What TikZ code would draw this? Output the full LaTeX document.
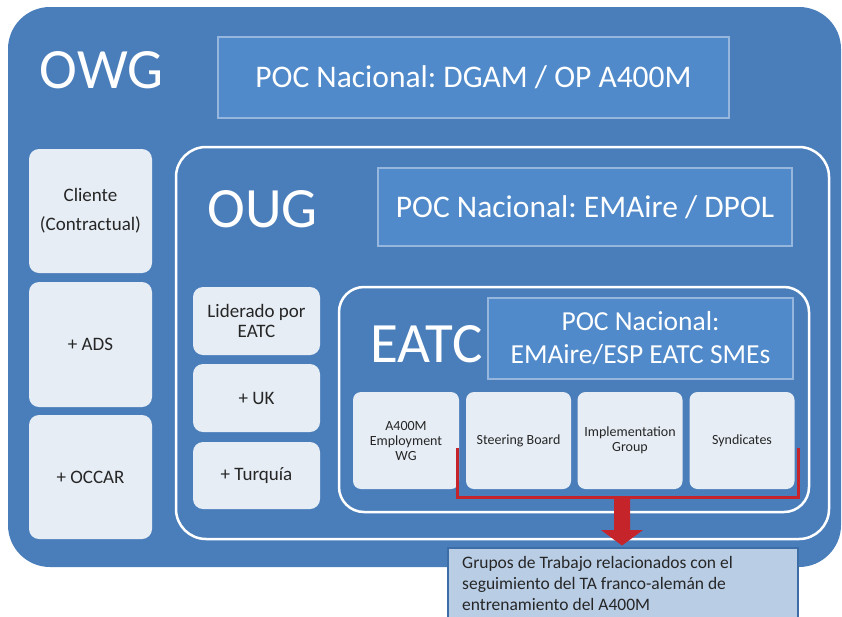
\documentclass[tikz,border=0pt]{standalone}
\usepackage{fontspec}
\setmainfont{Carlito}
\frenchspacing
\definecolor{outerblue}{RGB}{74,126,187}
\definecolor{pocfill}{RGB}{80,138,202}
\definecolor{pocline}{RGB}{150,182,222}
\definecolor{lightbox}{RGB}{230,237,245}
\definecolor{textdark}{RGB}{38,38,38}
\definecolor{redline}{RGB}{196,36,42}
\definecolor{notefill}{RGB}{185,205,229}
\definecolor{noteline}{RGB}{60,109,166}
\tikzset{
  outerbox/.style={fill=outerblue, rounded corners=42pt, inner sep=0},
  bigtitle/.style={text=white, font=\fontsize{57}{60}\selectfont, anchor=base, inner sep=0},
  pocbox/.style={draw=pocline, line width=1.5pt, fill=pocfill, text=white, inner sep=0, align=center},
  lbox/.style={fill=lightbox, rounded corners=10pt, text=textdark, inner sep=0, align=center},
  sbox/.style={fill=lightbox, rounded corners=8pt, text=textdark, inner sep=0, align=center,
     font=\fontsize{14}{15}\selectfont, minimum width=105pt, minimum height=97pt},
  frame/.style={draw=white, line width=2.5pt, inner sep=0},
  notetext/.style={text=textdark, anchor=base west, inner sep=0, font=\fontsize{17.5}{21}\selectfont},
}
\begin{document}
\begin{tikzpicture}[x=1pt,y=-1pt]
\useasboundingbox (0,0) rectangle (842,616);
\clip (0,0) rectangle (842,616);
% outer OWG
\node[outerbox, minimum width=833pt, minimum height=560pt] (owg) at (424.5,287) {};
\node[bigtitle] (owgt) at (101.5,88) {OWG};
\node[pocbox, minimum width=511pt, minimum height=81pt, font=\fontsize{31.5}{36}\selectfont] (poc1) at (473.5,77.5) {POC Nacional: DGAM / OP A400M};
% left column
\node[lbox, minimum width=123pt, minimum height=124pt, font=\fontsize{19}{29}\selectfont] (cli) at (90.5,211) {Cliente\\(Contractual)};
\node[lbox, minimum width=123pt, minimum height=125pt, font=\fontsize{19}{23}\selectfont] (ads) at (90.5,344.5) {+ ADS};
\node[lbox, minimum width=123pt, minimum height=124pt, font=\fontsize{19}{23}\selectfont] (occ) at (90.5,477) {+ OCCAR};
% OUG
\node[frame, rounded corners=30pt, minimum width=653pt, minimum height=392pt] (oug) at (502.5,343) {};
\node[bigtitle] (ougt) at (262.5,227) {OUG};
\node[pocbox, minimum width=414pt, minimum height=78pt, font=\fontsize{31.5}{36}\selectfont] (poc2) at (585,207) {POC Nacional: EMAire / DPOL};
\node[lbox, minimum width=127pt, minimum height=68pt, font=\fontsize{19}{20}\selectfont] (lid) at (256.5,321) {Liderado por\\EATC};
\node[lbox, minimum width=127pt, minimum height=68pt, font=\fontsize{19}{20}\selectfont] (uk) at (256.5,398) {+ UK};
\node[lbox, minimum width=127pt, minimum height=67pt, font=\fontsize{19}{20}\selectfont] (tur) at (256.5,475.5) {+ Turquía};
% EATC
\node[frame, rounded corners=25pt, minimum width=470pt, minimum height=225pt] (eatc) at (574,399.5) {};
\node[bigtitle] (eatct) at (426.5,362) {EATC};
\node[pocbox, minimum width=305pt, minimum height=81pt, font=\fontsize{27.5}{33}\selectfont] (poc3) at (640.5,338.5) {POC Nacional:\\EMAire/ESP EATC SMEs};
\node[sbox, minimum width=106pt] (wg) at (406,440.5) {A400M\\Employment\\WG};
\node[sbox] (sb) at (518.5,440.5) {Steering Board};
\node[sbox] (ig) at (630,440.5) {Implementation\\Group};
\node[sbox] (syn) at (742,440.5) {Syndicates};
% red bracket
\coordinate (ba) at (457.5,448);
\coordinate (bb) at (798,448);
\draw[redline, line width=3pt] (ba) |- (622,497.5) -| (bb);
% bottom note
\node[draw=noteline, line width=2pt, fill=notefill, minimum width=350pt, minimum height=76pt, inner sep=0] (note) at (623,586) {};
% red arrow
\coordinate (atip) at (622,545.5);
\fill[redline] (614,497) -- (630,497) -- (630,530) -- (643,530) -- (atip) -- (601,530) -- (614,530) -- cycle;
\node[notetext] (n1) at (462,568) {Grupos de Trabajo relacionados con el};
\node[notetext] (n2) at (462,589) {seguimiento del TA franco-alemán de};
\node[notetext] (n3) at (462,610) {entrenamiento del A400M};
\end{tikzpicture}
\end{document}
